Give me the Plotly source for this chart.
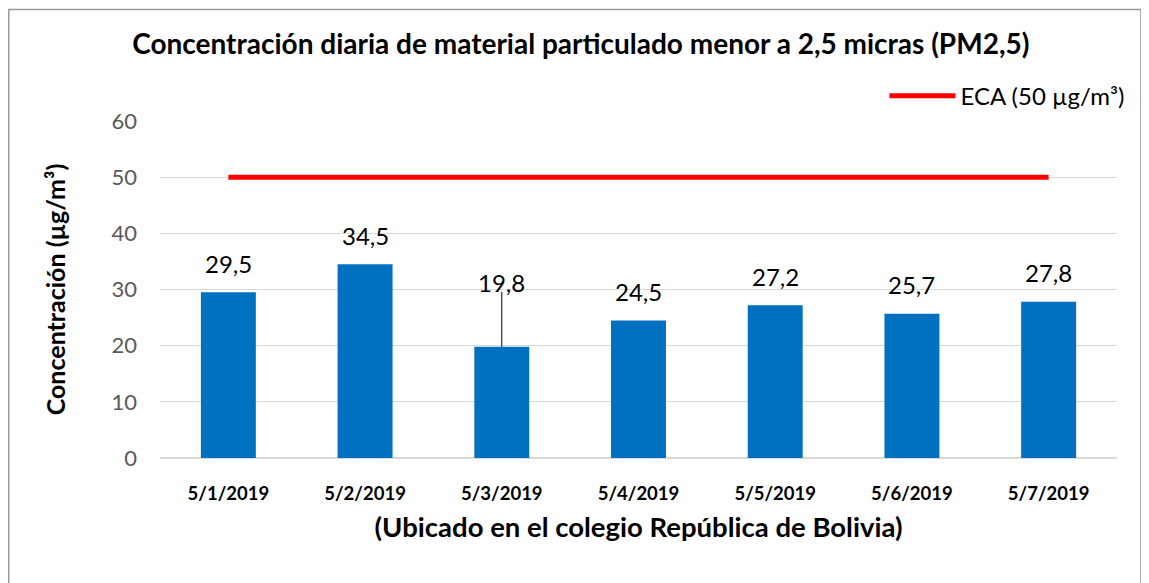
import plotly.graph_objects as go

categories = ["5/1/2019", "5/2/2019", "5/3/2019", "5/4/2019", "5/5/2019", "5/6/2019", "5/7/2019"]
values = [29.5, 34.5, 19.8, 24.5, 27.2, 25.7, 27.8]
eca_limit = [50] * len(categories)
label_texts = ["29,5", "34,5", "19,8", "24,5", "27,2", "25,7", "27,8"]
y_ticks = [0, 10, 20, 30, 40, 50, 60]

FONT = "Lato"

fig = go.Figure()
fig.add_trace(go.Bar(x=categories, y=values, marker=dict(color="#0070C0", line=dict(width=0)),
                     width=0.402, showlegend=False, hoverinfo="skip"))
fig.add_trace(go.Scatter(x=categories, y=eca_limit, mode="lines", name="ECA (50 µg/m³)",
                         line=dict(color="#FF0000", width=5)))

for i, (c, v, t) in enumerate(zip(categories, values, label_texts)):
    shift = 64 if i == 2 else 29
    fig.add_annotation(x=c, y=v, text=t, showarrow=False, yanchor="middle", yshift=shift,
                       font=dict(family=FONT, size=24, color="#000000"))

# leader line for the displaced label
fig.add_shape(type="line", xref="x", yref="y", x0=categories[2], x1=categories[2],
              y0=values[2], y1=values[2] + 9.8, line=dict(color="#000000", width=1))

# chart border
fig.add_shape(type="rect", xref="paper", yref="paper", x0=-0.158, x1=1.025, y0=-0.40, y1=1.331,
              line=dict(color="#9A9A9A", width=1.5), fillcolor="rgba(0,0,0,0)")

fig.update_layout(
    width=1141, height=575,
    margin=dict(l=152, r=32, t=113, b=125),
    plot_bgcolor="white", paper_bgcolor="white",
    font=dict(family=FONT),
    title=dict(text="<b>Concentración diaria de material particulado menor a 2,5 micras (PM2,5)</b>",
               x=0.502, xanchor="center", y=0.937, yanchor="middle",
               font=dict(family=FONT, size=28, color="#000000")),
    legend=dict(x=1.013, xanchor="right", y=1.074, yanchor="middle", orientation="h",
                font=dict(family=FONT, size=24, color="#000000"), itemwidth=66,
                bgcolor="rgba(0,0,0,0)"),
    bargap=0.6,
)
fig.update_yaxes(range=[0, 60], tickvals=y_ticks, showgrid=True, gridcolor="#D9D9D9", gridwidth=1,
                 zeroline=True, zerolinecolor="#D9D9D9", zerolinewidth=2, showline=False,
                 tickfont=dict(family=FONT, size=22, color="#595959"), ticks="", ticklabelstandoff=22,
                 title=dict(text="<b>Concentración (µg/m³)</b>", standoff=38,
                            font=dict(family=FONT, size=25, color="#000000")))
fig.update_xaxes(showgrid=False, showline=False, ticks="",
                 tickfont=dict(family=FONT, size=18.5, color="#000000", weight="bold"),
                 ticklabelstandoff=22,
                 title=dict(text="<b>(Ubicado en el colegio República de Bolivia)</b>", standoff=15,
                            font=dict(family=FONT, size=27.5, color="#000000")))

fig.write_html("out.html")
